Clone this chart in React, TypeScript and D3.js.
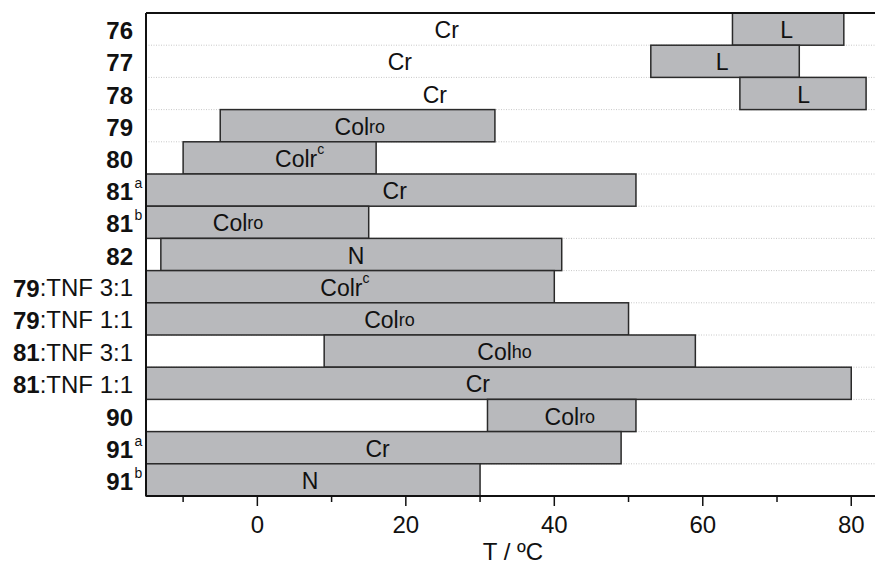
import React from "react";
import * as d3 from "d3";

// row labels (bold part, plain part, superscript)
const rowBold = ["76", "77", "78", "79", "80", "81", "81", "82", "79", "79", "81", "81", "90", "91", "91"];
const rowRest = ["", "", "", "", "", "", "", "", ":TNF 3:1", ":TNF 1:1", ":TNF 3:1", ":TNF 1:1", "", "", ""];
const rowSup = ["", "", "", "", "", "a", "b", "", "", "", "", "", "", "a", "b"];

// mesophase bars
const barRow = [0, 1, 2, 3, 4, 5, 6, 7, 8, 9, 10, 11, 12, 13, 14];
const barStart = [64, 53, 65, -5, -10, -15, -15, -13, -15, -15, 9, -15, 31, -15, -15];
const barEnd = [79, 73, 82, 32, 16, 51, 15, 41, 40, 50, 59, 80, 51, 49, 30];
const barPhase = ["L", "L", "L", "Colro", "Colrc", "Cr", "Colro", "N", "Colrc", "Colro", "Colho", "Cr", "Colro", "Cr", "N"];
const barLabelT = [71.3, 62.6, 73.6, 13.8, 5.7, 18.5, -2.6, 13.3, 11.8, 17.8, 33.3, 29.7, 42.1, 16.2, 7.1];

// crystal labels without bar
const crRow = [0, 1, 2];
const crLabelT = [25.5, 19.2, 23.9];

const ticks = [-10, 0, 10, 20, 30, 40, 50, 60, 70, 80];
const tickLabels = [0, 20, 40, 60, 80];

const W = 875;
const H = 566;
const top = 13;
const bottom = 496;
const left = 146;

function PhaseText({ phase, x, y }: { phase: string; x: number; y: number }) {
  const common = { x, y, textAnchor: "middle" as const, dominantBaseline: "central" as const, fontSize: 23, fill: "#111" };
  if (phase === "Colro" || phase === "Colho") {
    return (
      <text {...common}>
        Col<tspan fontSize={18}>{phase.slice(3)}</tspan>
      </text>
    );
  }
  if (phase === "Colrc") {
    return (
      <text {...common}>
        Colr<tspan fontSize={14} dy={-10}>c</tspan>
      </text>
    );
  }
  return <text {...common}>{phase}</text>;
}

export default function App() {
  const x = d3.scaleLinear().domain([-15, 83.2]).range([left, W]);
  const y = d3
    .scaleBand<number>()
    .domain(d3.range(rowBold.length))
    .range([top, bottom])
    .padding(0);
  const bw = y.bandwidth();

  return (
    <svg
      width={W}
      height={H}
      style={{ position: "absolute", left: 0, top: 0, fontFamily: "Liberation Sans, Arial, sans-serif" }}
    >
      <rect width={W} height={H} fill="#fff" />
      {/* dotted grid between rows */}
      {d3.range(1, rowBold.length).map((i) => (
        <line
          key={"g" + i}
          x1={left}
          x2={W}
          y1={y(i)!}
          y2={y(i)!}
          stroke="#c8c8c8"
          strokeWidth={1}
          strokeDasharray="1,1.5"
        />
      ))}
      {/* bars */}
      {barRow.map((r, i) => (
        <rect
          key={"b" + i}
          x={x(barStart[i])}
          y={y(r)!}
          width={x(barEnd[i]) - x(barStart[i])}
          height={bw}
          fill="#b8b9bc"
          stroke="#2a2a2a"
          strokeWidth={1.5}
        />
      ))}
      {barRow.map((r, i) => (
        <PhaseText key={"t" + i} phase={barPhase[i]} x={x(barLabelT[i])} y={y(r)! + bw / 2 + 1} />
      ))}
      {crRow.map((r, i) => (
        <PhaseText key={"c" + i} phase="Cr" x={x(crLabelT[i])} y={y(r)! + bw / 2 + 1} />
      ))}
      {/* frame */}
      <line x1={left} x2={W} y1={top} y2={top} stroke="#111" strokeWidth={2} />
      <line x1={left} x2={W} y1={bottom} y2={bottom} stroke="#111" strokeWidth={2} />
      <line x1={left} x2={left} y1={top} y2={bottom} stroke="#111" strokeWidth={2} />
      {/* x ticks */}
      {ticks.map((t) => (
        <line
          key={"k" + t}
          x1={x(t)}
          x2={x(t)}
          y1={bottom}
          y2={bottom + (t % 20 === 0 ? 10 : 6)}
          stroke="#111"
          strokeWidth={1.5}
        />
      ))}
      {tickLabels.map((t) => (
        <text key={"l" + t} x={x(t)} y={524} textAnchor="middle" dominantBaseline="central" fontSize={24} fill="#111">
          {t}
        </text>
      ))}
      <text x={513} y={551} textAnchor="middle" dominantBaseline="central" fontSize={24} fill="#111">
        T / ºC
      </text>
      {/* row labels */}
      {rowBold.map((b, i) => (
        <text
          key={"r" + i}
          x={133}
          y={y(i)! + bw / 2 + 1}
          textAnchor="end"
          dominantBaseline="central"
          fontSize={24}
          fill="#111"
        >
          <tspan fontWeight="bold">{b}</tspan>
          {rowRest[i]}
        </text>
      ))}
      {rowSup.map((s, i) =>
        s ? (
          <text key={"s" + i} x={134.5} y={y(i)! + bw / 2 - 7} dominantBaseline="central" fontSize={14} fill="#111">
            {s}
          </text>
        ) : null
      )}
    </svg>
  );
}
